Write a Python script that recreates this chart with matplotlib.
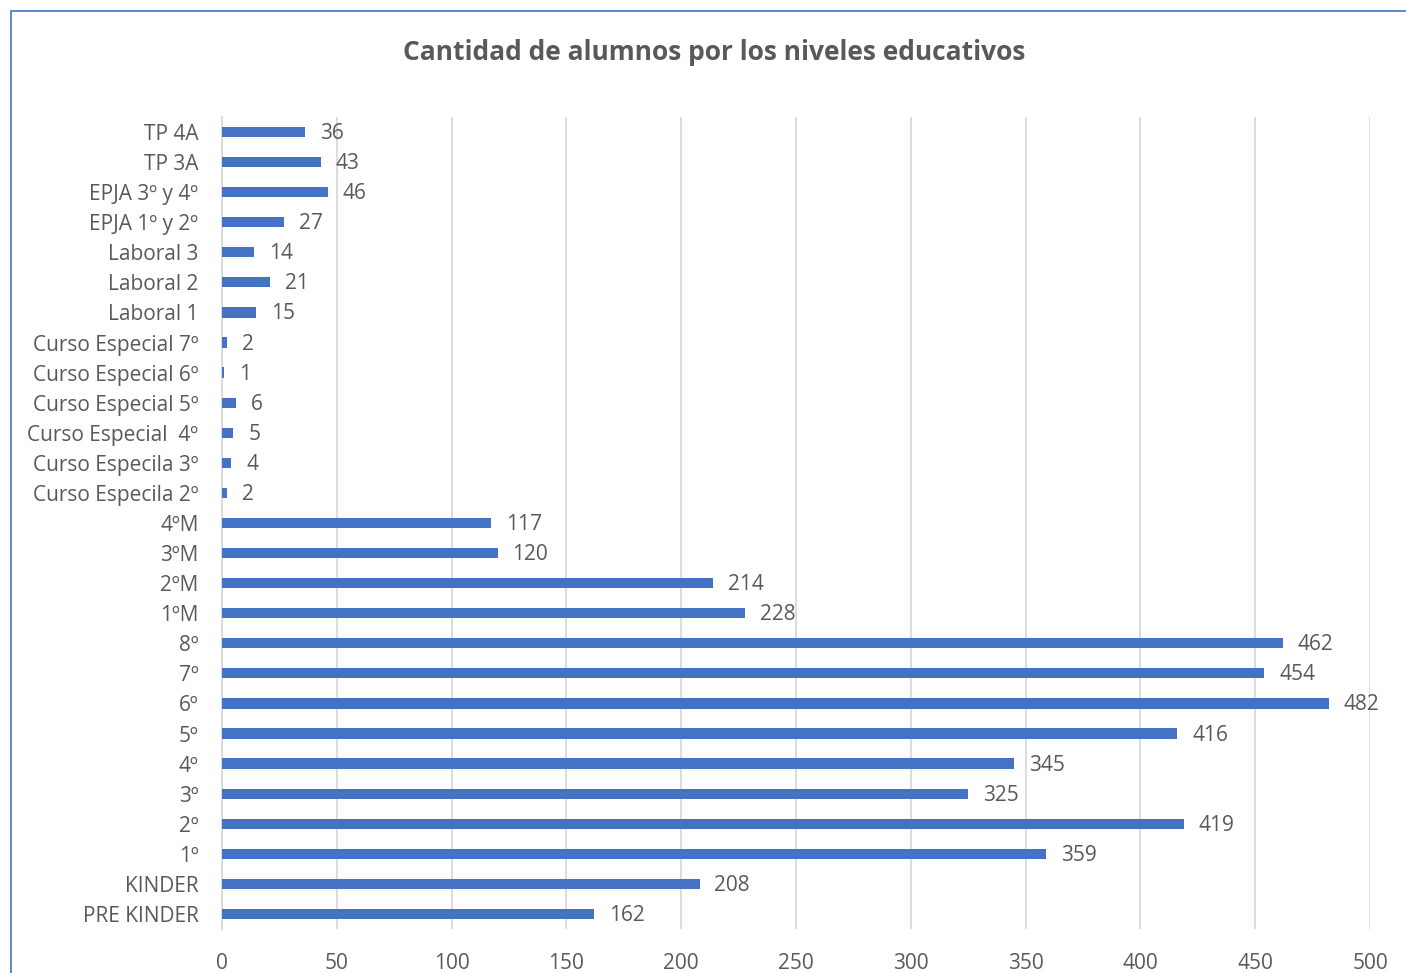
import matplotlib.pyplot as plt
from matplotlib.patches import Rectangle

niveles = ['TP 4A', 'TP 3A', 'EPJA 3º y 4º', 'EPJA 1º y 2º', 'Laboral 3',
           'Laboral 2', 'Laboral 1', 'Curso Especial 7º', 'Curso Especial 6º',
           'Curso Especial 5º', 'Curso Especial  4º', 'Curso Especila 3º',
           'Curso Especila 2º', '4ºM', '3ºM', '2ºM', '1ºM', '8º', '7º', '6º',
           '5º', '4º', '3º', '2º', '1º', 'KINDER', 'PRE KINDER']
alumnos = [36, 43, 46, 27, 14, 21, 15, 2, 1, 6, 5, 4, 2, 117, 120, 214, 228,
           462, 454, 482, 416, 345, 325, 419, 359, 208, 162]
xticks = [0, 50, 100, 150, 200, 250, 300, 350, 400, 450, 500]

plt.rcParams['font.family'] = ['Open Sans', 'DejaVu Sans']
gris = '#595959'
fs = 15

fig = plt.figure(figsize=(14.06, 9.73), dpi=100)
ax = fig.add_axes([0.1579, 0.0452, 0.8165, 0.8346])

y = list(range(len(niveles)))
ax.barh(y, alumnos, height=0.34, color='#4472C4', zorder=3)
for i, v in enumerate(alumnos):
    ax.text(v + 6.5, i + 0.05, str(v), va='center', ha='left', fontsize=fs, color=gris)

ax.set_ylim(len(niveles) - 0.5, -0.5)
ax.set_xlim(0, 500)
ax.set_yticks(y)
ax.set_yticklabels(niveles, fontsize=fs, color=gris)
ax.set_xticks(xticks)
ax.set_xticklabels([str(t) for t in xticks], fontsize=fs, color=gris)
ax.tick_params(axis='y', length=0, pad=17)
ax.tick_params(axis='x', length=0, pad=17)
ax.grid(axis='x', color='#D9D9D9', linewidth=1.3, zorder=0)
for s in ['top', 'right', 'bottom']:
    ax.spines[s].set_visible(False)
ax.spines['left'].set_color('#D9D9D9')
ax.spines['left'].set_linewidth(1.3)

fig.text(0.508, 0.946, 'Cantidad de alumnos por los niveles educativos',
         ha='center', va='center', fontsize=19, fontweight='bold', color=gris)

# chart frame, cut off at right and bottom like the screenshot
fig.patches.append(Rectangle((11 / 1406, -0.1), 1.2, 1.1 - 11 / 973,
                             transform=fig.transFigure, fill=False,
                             edgecolor='#4472C4', linewidth=1.2))

fig.savefig('out.png', dpi=100)
